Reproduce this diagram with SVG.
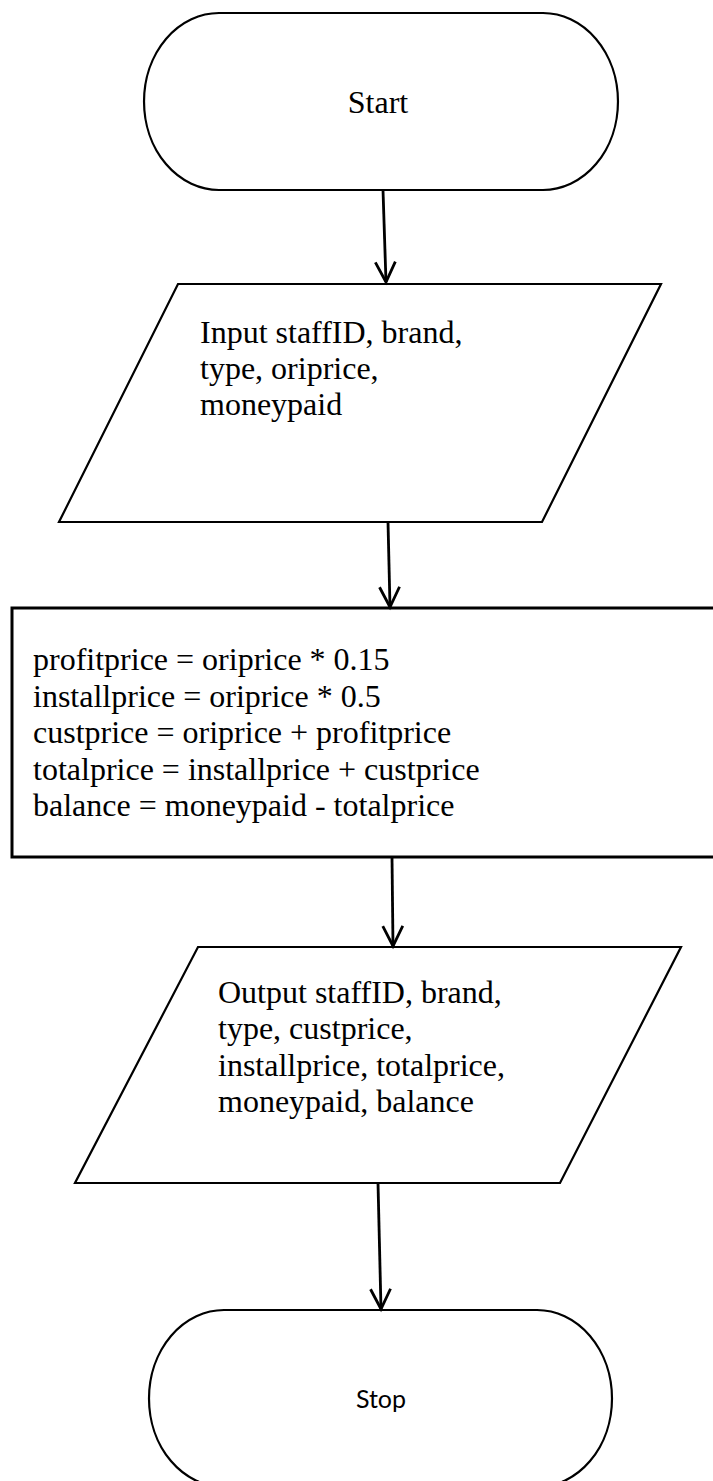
<svg xmlns="http://www.w3.org/2000/svg" width="713" height="1481" viewBox="0 0 713 1481">
  <style>
    .shape { fill: #ffffff; stroke: #000000; stroke-width: 2.2; stroke-linejoin: miter; }
    .box { fill: #ffffff; stroke: #000000; stroke-width: 3; }
    .serif { font-family: "Liberation Serif", "Times New Roman", serif; font-size: 32px; fill: #000000; }
    .sans { font-family: Lato, "Open Sans", sans-serif; font-size: 25px; fill: #000000; }
    .flow { fill: none; stroke: #000000; stroke-width: 2.8; }
  </style>
  <defs>
    <marker id="vhead" markerUnits="userSpaceOnUse" markerWidth="30" markerHeight="30" refX="0" refY="0" orient="auto" viewBox="-25 -15 30 30" overflow="visible">
      <path d="M-20,-10 L0,0 L-20,10" fill="none" stroke="#000000" stroke-width="2.8"/>
    </marker>
  </defs>
  <rect width="713" height="1481" fill="#ffffff"/>

  <!-- Start terminal -->
  <g id="start">
    <path class="shape" d="M219,13 L543,13 A75,88.5 0 0 1 543,190 L219,190 A75,88.5 0 0 1 219,13 Z"/>
    <text class="serif" x="378" y="113" text-anchor="middle">Start</text>
  </g>

  <!-- Input data -->
  <g id="input">
    <polygon class="shape" points="178,284 661,284 542,522 59,522"/>
    <text class="serif" x="200" y="343">Input staffID, brand,</text>
    <text class="serif" x="200" y="379">type, oriprice,</text>
    <text class="serif" x="200" y="415">moneypaid</text>
  </g>

  <!-- Price calculations -->
  <g id="process">
    <rect class="box" x="12" y="608" width="730" height="249"/>
    <text class="serif" x="33" y="670">profitprice = oriprice * 0.15</text>
    <text class="serif" x="33" y="706.5">installprice = oriprice * 0.5</text>
    <text class="serif" x="33" y="743">custprice = oriprice + profitprice</text>
    <text class="serif" x="33" y="779.5">totalprice = installprice + custprice</text>
    <text class="serif" x="33" y="816">balance = moneypaid - totalprice</text>
  </g>

  <!-- Output data -->
  <g id="output">
    <polygon class="shape" points="198,947 681,947 560,1183 75,1183"/>
    <text class="serif" x="218" y="1003">Output staffID, brand,</text>
    <text class="serif" x="218" y="1039">type, custprice,</text>
    <text class="serif" x="218" y="1075.5">installprice, totalprice,</text>
    <text class="serif" x="218" y="1112">moneypaid, balance</text>
  </g>

  <!-- Stop terminal -->
  <g id="stop">
    <path class="shape" d="M224,1310 L537,1310 A75,88.5 0 0 1 537,1487 L224,1487 A75,88.5 0 0 1 224,1310 Z"/>
    <text class="sans" x="381" y="1408" text-anchor="middle">Stop</text>
  </g>

  <!-- Connectors -->
  <g id="connectors">
    <line class="flow" x1="383" y1="190" x2="386" y2="282" marker-end="url(#vhead)"/>
    <line class="flow" x1="388" y1="522" x2="390" y2="607" marker-end="url(#vhead)"/>
    <line class="flow" x1="392" y1="857" x2="393" y2="946" marker-end="url(#vhead)"/>
    <line class="flow" x1="378" y1="1183" x2="381" y2="1309" marker-end="url(#vhead)"/>
  </g>
</svg>
